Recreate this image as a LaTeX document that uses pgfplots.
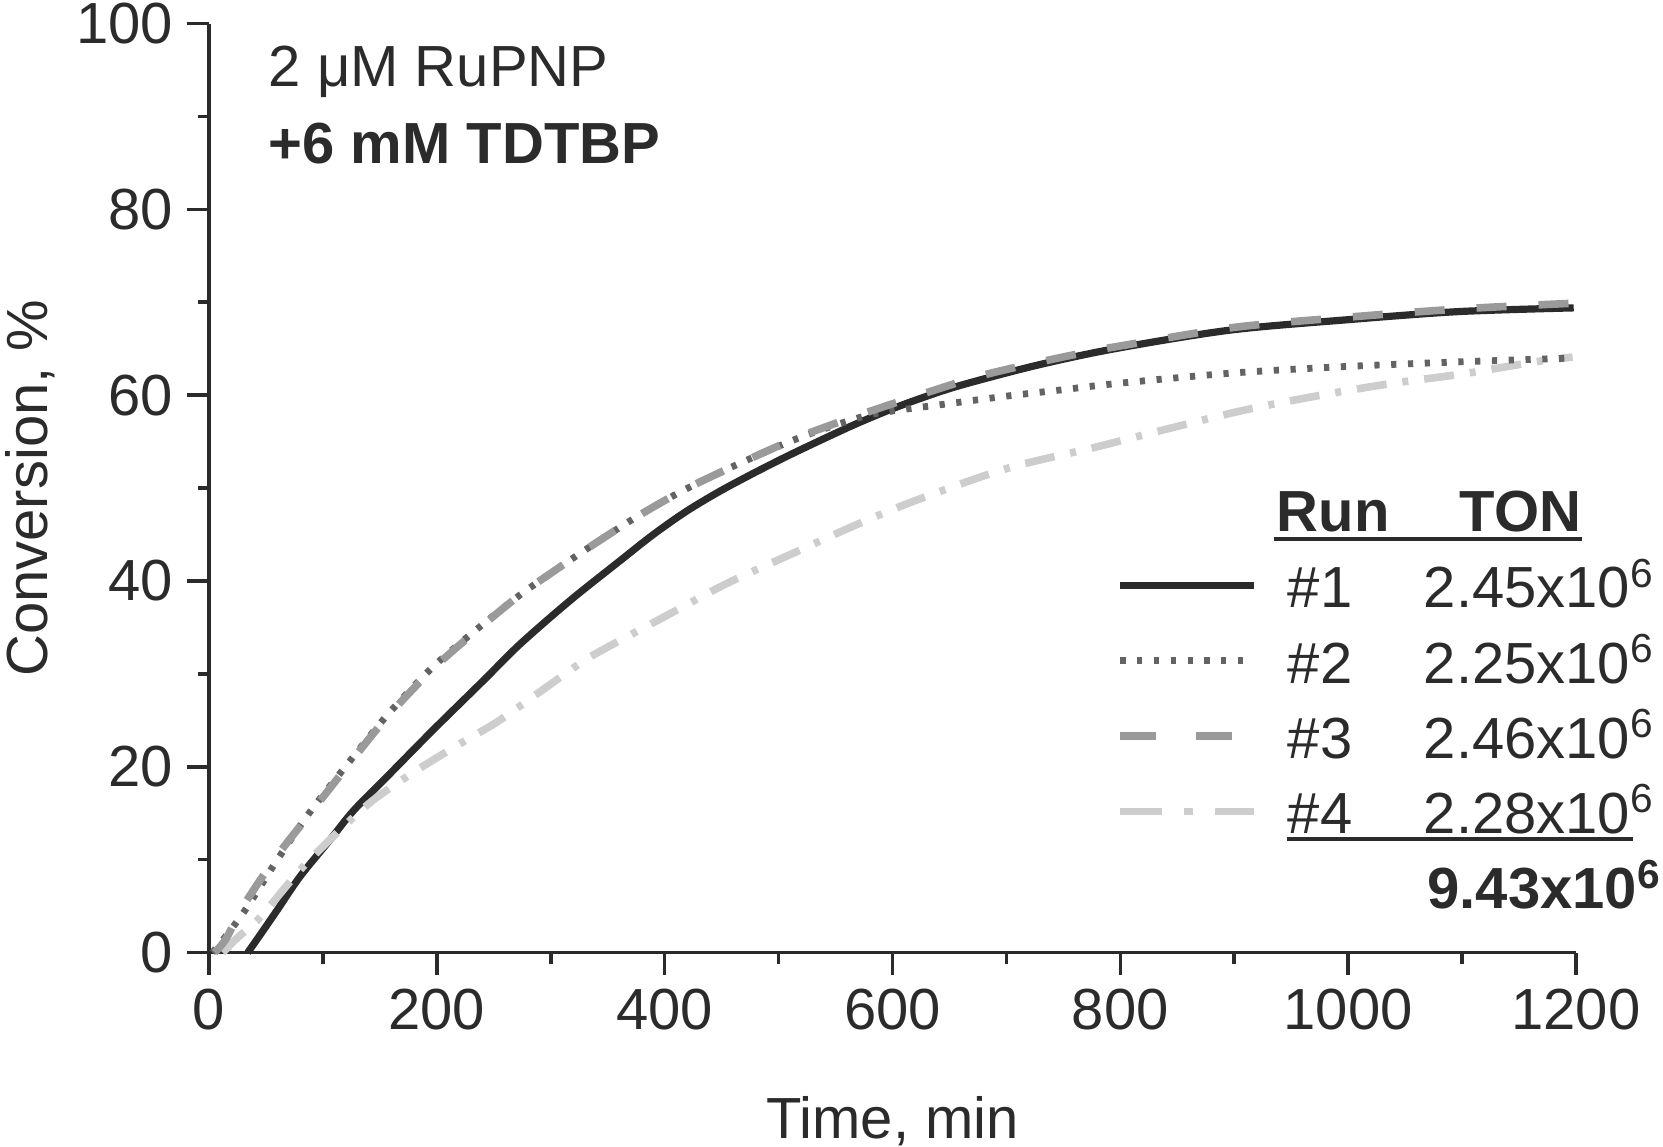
\documentclass[border=0pt]{standalone}
\usepackage{fontspec}
\setmainfont{Liberation Sans}
\usepackage{pgfplots}
\pgfplotsset{compat=1.18}

\definecolor{ink}{HTML}{2B2B2B}
\definecolor{runtwo}{HTML}{636363}
\definecolor{runthree}{HTML}{9A9A9A}
\definecolor{runfour}{HTML}{CDCDCD}

\newcommand{\fs}{\fontsize{14.5}{17}\selectfont}

\tikzset{
  run1/.style={ink, line width=1.8pt},
  run2/.style={runtwo, line width=1.7pt, dash pattern=on 1.3pt off 2.9pt},
  run3/.style={runthree, line width=1.9pt, dash pattern=on 7.5pt off 8pt},
  run4/.style={runfour, line width=1.9pt, dash pattern=on 7.5pt off 4pt on 1.5pt off 4pt},
  lab/.style={anchor=base west, inner sep=0pt, font=\fs, text=ink},
}

\begin{document}
\begin{tikzpicture}
\useasboundingbox (-52.25pt,-48.6pt) rectangle (363.5pt,238.15pt);
\begin{axis}[
  at={(0,0)}, anchor=south west,
  scale only axis, width=341.75pt, height=232.25pt,
  xmin=0, xmax=1200, ymin=0, ymax=100,
  axis lines=left,
  axis line style={-, line width=0.9pt, ink},
  tick style={line width=0.9pt, ink},
  tick align=outside,
  major tick length=5.5pt, minor tick length=2.75pt,
  xtick={0,200,...,1200}, ytick={0,20,...,100},
  minor xtick={100,300,...,1100}, minor ytick={10,30,...,90},
  ticklabel style={font=\fs, text=ink},
  /pgf/number format/assume math mode=true,
  /pgf/number format/1000 sep={},
  xlabel={Time, min}, ylabel={Conversion, \%},
  every axis x label/.style={at={([yshift=-46.4pt]rel axis cs:0.5,0)}, anchor=base, font=\fs, text=ink},
  every axis y label/.style={at={([xshift=-40.25pt]rel axis cs:0,0.5)}, anchor=base, rotate=90, font=\fs, text=ink},
  clip=false,
]
% run 1
\addplot[run1, smooth] coordinates {
  (34,0) (46,2.1) (60,4.6) (80,8.2) (106,12.1) (127,15.3) (156,18.9)
  (197,24.0) (241,29.3) (273,33.2) (317,37.9) (361,42.2) (390,45.0)
  (419,47.5) (449,49.7) (478,51.6) (507,53.4) (536,55.1) (566,56.8)
  (595,58.3) (621,59.5) (658,61.0) (726,63.2)
  (795,65.0) (896,67.0) (997,68.1) (1097,69.0) (1198,69.4)
};
% run 4
\addplot[run4, smooth] coordinates {
  (12,0) (25,1.6) (45,3.8) (80,8.9) (115,13.2) (144,16.4) (182,19.6)
  (226,22.9) (255,25.0) (308,29.6) (337,32.0) (399,36.1) (454,39.7)
  (513,43.0) (571,46.2) (621,48.7) (700,52.1) (778,54.4) (839,56.3)
  (909,58.4) (976,60.0) (1040,61.3) (1101,62.3) (1165,63.6) (1197,64.1)
};
% run 2
\addplot[run2, smooth] coordinates {
  (3,0) (15,1.8) (33,4.8) (60,10.0) (89,15.2) (121,20.2) (156,25.5)
  (197,30.8) (241,35.4) (273,38.5) (302,41.0) (331,43.4) (370,46.5)
  (402,48.8) (430,50.6) (472,53.0) (522,55.6) (574,57.7) (600,58.3)
  (650,59.1) (700,59.9) (750,60.6) (800,61.3) (900,62.4) (1000,63.1)
  (1100,63.6) (1197,64.0)
};
% run 3
\addplot[run3, smooth] coordinates {
  (5,0) (15,1.5) (30,5.0) (59,10.3) (89,15.0) (121,20.0) (156,25.3)
  (197,30.6) (241,35.3) (273,38.5) (302,41.0) (331,43.4) (370,46.5)
  (402,48.8) (430,50.6) (472,53.0) (522,55.7) (574,58.0) (618,59.8)
  (675,62.0) (719,63.3) (769,64.6) (800,65.3) (900,67.3) (1000,68.4)
  (1100,69.3) (1198,69.9)
};

\node[lab] at (axis cs:51.8,93.2) {2 μM RuPNP};
\node[lab, font=\fs\bfseries] at (axis cs:51.8,84.95) {+6 mM TDTBP};

% table legend
\node[lab, font=\fs\bfseries] at (axis cs:936.6,45.3) {Run};
\node[lab, font=\fs\bfseries] at (axis cs:1097.3,45.3) {TON};
\draw[ink, line width=1pt] (axis cs:935,44.5) -- (axis cs:1205,44.5);

\draw[run1] (axis cs:800,39.5) -- (axis cs:917,39.5);
\draw[run2, dash pattern=on 1.3pt off 2.9pt] (axis cs:800,31.4) -- (axis cs:917,31.4);
\draw[run3, dash pattern=on 9pt off 10pt] (axis cs:800,23.3) -- (axis cs:917,23.3);
\draw[run4, dash pattern=on 10.5pt off 5.5pt on 2.1pt off 5.6pt] (axis cs:800,15.2) -- (axis cs:917,15.2);

\node[lab] at (axis cs:946.3,37.1) {\#1};
\node[lab] at (axis cs:1065.7,37.1) {2.45x10\textsuperscript{6}};
\node[lab] at (axis cs:946.3,29.0) {\#2};
\node[lab] at (axis cs:1065.7,29.0) {2.25x10\textsuperscript{6}};
\node[lab] at (axis cs:946.3,20.9) {\#3};
\node[lab] at (axis cs:1065.7,20.9) {2.46x10\textsuperscript{6}};
\node[lab] at (axis cs:946.3,12.8) {\#4};
\node[lab] at (axis cs:1065.7,12.8) {2.28x10\textsuperscript{6}};
\draw[ink, line width=1pt] (axis cs:946.3,12.2) -- (axis cs:1250,12.2);
\node[lab, font=\fs\bfseries] at (axis cs:1069,4.7) {9.43x10\textsuperscript{6}};
\end{axis}
\end{tikzpicture}
\end{document}
